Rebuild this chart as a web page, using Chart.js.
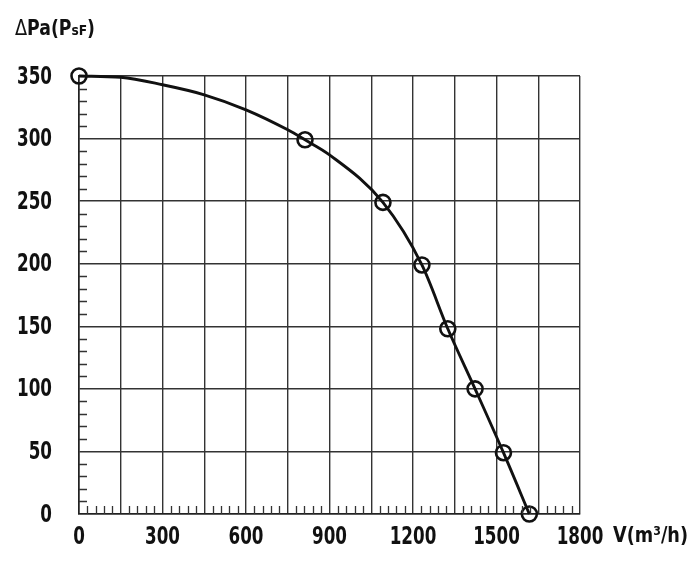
<!DOCTYPE html>
<html lang="en">
<head>
    <meta charset="UTF-8">
    <title>Fan curve</title>
    <script src="https://cdn.jsdelivr.net/npm/chart.js"></script>
    <style>
        html, body { margin: 0; padding: 0; background: #fff; }
        canvas { display: block; }
    </style>
</head>
<body>
    <canvas id="fanChart" width="700" height="566"></canvas>
    <script>
        // measured points (markers) - V in m3/h, pressure in Pa
        const flowPts = [0, 812, 1092, 1232, 1325, 1423, 1525, 1618];
        const pressPts = [350, 299, 249, 199, 148, 100, 49, 0];

        // the line (flat top part + the markers)
        const flowCurve = [0, 150, 300, 450, 600, 750, 812, 900, 1092, 1232, 1325, 1423, 1525, 1618];
        const pressCurve = [350, 349, 343, 335, 323, 307, 299, 287, 249, 199, 148, 100, 49, 0];

        const xMax = 1800, xStep = 150, xLabelStep = 300, xMinor = 30;
        const yMax = 350, yStep = 50, yMinor = 10;

        const FONT = "'DejaVu Sans Condensed', 'DejaVu Sans', sans-serif";
        const INK = '#111';

        // draws text squeezed horizontally, the original uses a narrow face
        function squeezed(ctx, text, x, y, sx) {
            ctx.save();
            ctx.translate(x, y);
            ctx.scale(sx, 1);
            ctx.fillText(text, 0, 0);
            ctx.restore();
        }

        // small ticks along the left and bottom axes
        const minorTicks = {
            id: 'minorTicks',
            afterDatasetsDraw(chart) {
                const { ctx, chartArea: a, scales: { x, y } } = chart;
                ctx.save();
                ctx.strokeStyle = '#333';
                ctx.lineWidth = 1.3;
                ctx.beginPath();
                for (let v = yMinor; v < yMax; v += yMinor) {
                    if (v % yStep === 0) continue;
                    const py = Math.round(y.getPixelForValue(v)) + 0.5;
                    ctx.moveTo(a.left, py);
                    ctx.lineTo(a.left + 8, py);
                }
                for (let v = xMinor; v < xMax; v += xMinor) {
                    if (v % xStep === 0) continue;
                    const px = Math.round(x.getPixelForValue(v)) + 0.5;
                    ctx.moveTo(px, a.bottom);
                    ctx.lineTo(px, a.bottom - 8);
                }
                ctx.stroke();
                ctx.restore();
            }
        };

        // tick labels and axis titles
        const axisText = {
            id: 'axisText',
            afterDraw(chart) {
                const { ctx, scales: { x, y } } = chart;
                ctx.save();
                ctx.fillStyle = INK;

                ctx.font = 'bold 25px ' + FONT;
                const sx = 35 / ctx.measureText('350').width;
                ctx.textBaseline = 'middle';
                ctx.textAlign = 'right';
                y.ticks.forEach(t => {
                    squeezed(ctx, String(t.value), 52, y.getPixelForValue(t.value) + 1, sx);
                });
                ctx.textAlign = 'center';
                x.ticks.forEach(t => {
                    if (t.value % xLabelStep !== 0) return;
                    squeezed(ctx, String(t.value), x.getPixelForValue(t.value), 537, sx);
                });

                // ΔPa(PsF)
                ctx.textAlign = 'left';
                ctx.textBaseline = 'alphabetic';
                const parts = [['Δ', '21px ' + FONT], ['Pa(P', 'bold 20.5px ' + FONT],
                               ['sF', 'bold 14.5px ' + FONT], [')', 'bold 20.5px ' + FONT]];
                let w = 0;
                parts.forEach(([t, f]) => { ctx.font = f; w += ctx.measureText(t).width; });
                ctx.translate(15, 35);
                ctx.scale(80 / w, 1);
                let px = 0;
                parts.forEach(([t, f]) => {
                    ctx.font = f;
                    ctx.fillText(t, px, 0);
                    px += ctx.measureText(t).width;
                });
                ctx.setTransform(1, 0, 0, 1, 0, 0);

                // V(m³/h)
                ctx.font = 'bold 21.5px ' + FONT;
                const vt = 'V(m³/h)';
                squeezed(ctx, vt, 613, 542, 75 / ctx.measureText(vt).width);
                ctx.restore();
            }
        };

        const ctx = document.getElementById('fanChart').getContext('2d');
        new Chart(ctx, {
            type: 'scatter',
            data: {
                datasets: [{
                    label: 'curve',
                    data: flowCurve.map((v, i) => ({ x: v, y: pressCurve[i] })),
                    showLine: true,
                    borderColor: INK,
                    borderWidth: 2.9,
                    pointRadius: 0,
                    cubicInterpolationMode: 'monotone',
                    fill: false,
                    clip: false
                }, {
                    label: 'points',
                    data: flowPts.map((v, i) => ({ x: v, y: pressPts[i] })),
                    showLine: false,
                    pointRadius: 7.5,
                    pointBorderWidth: 2.6,
                    pointBorderColor: INK,
                    pointBackgroundColor: 'rgba(0,0,0,0)',
                    clip: false
                }]
            },
            options: {
                responsive: false,
                animation: false,
                devicePixelRatio: 1,
                layout: { padding: { top: 76, right: 120, left: 0, bottom: 0 } },
                plugins: {
                    legend: { display: false },
                    tooltip: { enabled: false }
                },
                scales: {
                    x: {
                        type: 'linear',
                        min: 0,
                        max: xMax,
                        afterFit(s) { s.height = 52; },
                        grid: { color: '#333', lineWidth: 1.4, drawTicks: false },
                        border: { color: '#222', width: 1.6 },
                        ticks: { stepSize: xStep, autoSkip: false, display: false }
                    },
                    y: {
                        type: 'linear',
                        min: 0,
                        max: yMax,
                        afterFit(s) { s.width = 79; },
                        grid: { color: '#333', lineWidth: 1.4, drawTicks: false },
                        border: { color: '#222', width: 1.6 },
                        ticks: { stepSize: yStep, display: false }
                    }
                }
            },
            plugins: [minorTicks, axisText]
        });
    </script>
</body>
</html>
